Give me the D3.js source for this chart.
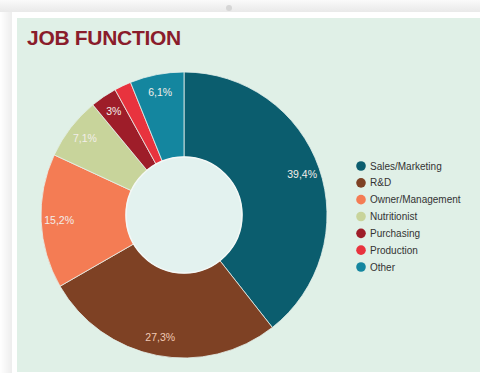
<!DOCTYPE html>
<html>
<head>
<meta charset="utf-8">
<script src="https://cdn.jsdelivr.net/npm/d3@7"></script>
<style>
  html, body { margin: 0; padding: 0; background: #fff; }
  svg { display: block; font-family: "Liberation Sans", Arial, sans-serif; }
</style>
</head>
<body>
<div id="chart"></div>
<script>
// job function shares, clockwise from 12 o'clock
const categories = ['Sales/Marketing', 'R&D', 'Owner/Management', 'Nutritionist', 'Purchasing', 'Production', 'Other'];
const values = [39.4, 27.3, 15.2, 7.1, 3, 1.9, 6.1];
const valueLabels = ['39,4%', '27,3%', '15,2%', '7,1%', '3%', '', '6,1%'];
const colors = ['#0b5d6e', '#7e4124', '#f47c54', '#c8d49b', '#9e1d29', '#e8333e', '#14869f'];

const width = 480;
const height = 373;

const svg = d3.select('#chart')
    .append('svg')
    .attr('width', width)
    .attr('height', height);

// page chrome: top grey strip, card with white border and pale green fill
const defs = svg.append('defs');
const topGrad = defs.append('linearGradient').attr('id', 'topgrad').attr('x1', 0).attr('y1', 0).attr('x2', 0).attr('y2', 1);
topGrad.append('stop').attr('offset', 0).attr('stop-color', '#fafafa');
topGrad.append('stop').attr('offset', 1).attr('stop-color', '#e9e9e9');
const leftGrad = defs.append('linearGradient').attr('id', 'leftgrad').attr('x1', 0).attr('y1', 0).attr('x2', 1).attr('y2', 0);
leftGrad.append('stop').attr('offset', 0).attr('stop-color', '#ffffff');
leftGrad.append('stop').attr('offset', 1).attr('stop-color', '#ededed');

svg.append('rect').attr('x', 0).attr('y', 0).attr('width', width).attr('height', 12).attr('fill', 'url(#topgrad)');
svg.append('rect').attr('x', 0).attr('y', 12).attr('width', 12).attr('height', height - 12).attr('fill', 'url(#leftgrad)');
svg.append('circle').attr('cx', 229).attr('cy', 8).attr('r', 3).attr('fill', '#d6d6d6');
svg.append('rect').attr('x', 12).attr('y', 12).attr('width', width - 12).attr('height', height - 12).attr('fill', '#ffffff');
svg.append('rect').attr('x', 17).attr('y', 18).attr('width', width - 17).attr('height', 354).attr('fill', '#e0f0e7');

svg.append('text')
    .attr('x', 27)
    .attr('y', 45)
    .attr('fill', '#8a1c2b')
    .attr('font-size', 21)
    .attr('font-weight', 'bold')
    .attr('letter-spacing', -0.3)
    .text('JOB FUNCTION');

// donut
const cx = 184, cy = 215;
const outerR = 143, innerR = 58;

const data = categories.map((c, i) => ({ name: c, value: values[i], label: valueLabels[i], color: colors[i] }));

const pie = d3.pie().value(d => d.value).sort(null);
const arc = d3.arc().innerRadius(innerR).outerRadius(outerR);
const labelArc = d3.arc().innerRadius(125).outerRadius(125);

const g = svg.append('g').attr('transform', `translate(${cx},${cy})`);

g.selectAll('path.slice')
    .data(pie(data))
    .join('path')
    .attr('class', 'slice')
    .attr('d', arc)
    .attr('fill', d => d.data.color)
    .attr('stroke', '#e6f1ec')
    .attr('stroke-width', 0.8);

g.append('circle')
    .attr('r', innerR)
    .attr('fill', '#e3f2ef')
    .attr('stroke', '#f4f8f6')
    .attr('stroke-width', 1.5);

g.selectAll('text.val')
    .data(pie(data))
    .join('text')
    .attr('class', 'val')
    .attr('transform', d => `translate(${labelArc.centroid(d)})`)
    .attr('text-anchor', 'middle')
    .attr('dy', '0.35em')
    .attr('font-size', 10.5)
    .attr('fill', d => d.data.name === 'R&D' ? '#f0c9b4' : '#f3eeea')
    .text(d => d.data.label);

// legend
const legendY = d3.scalePoint().domain(categories).range([166, 267]);
const legend = svg.append('g');
const rows = legend.selectAll('g')
    .data(data)
    .join('g')
    .attr('transform', d => `translate(361,${legendY(d.name)})`);
rows.append('circle').attr('r', 4.8).attr('fill', d => d.color);
rows.append('text')
    .attr('x', 9)
    .attr('dy', '0.35em')
    .attr('font-size', 10)
    .attr('fill', '#333')
    .text(d => d.name);
</script>
</body>
</html>
